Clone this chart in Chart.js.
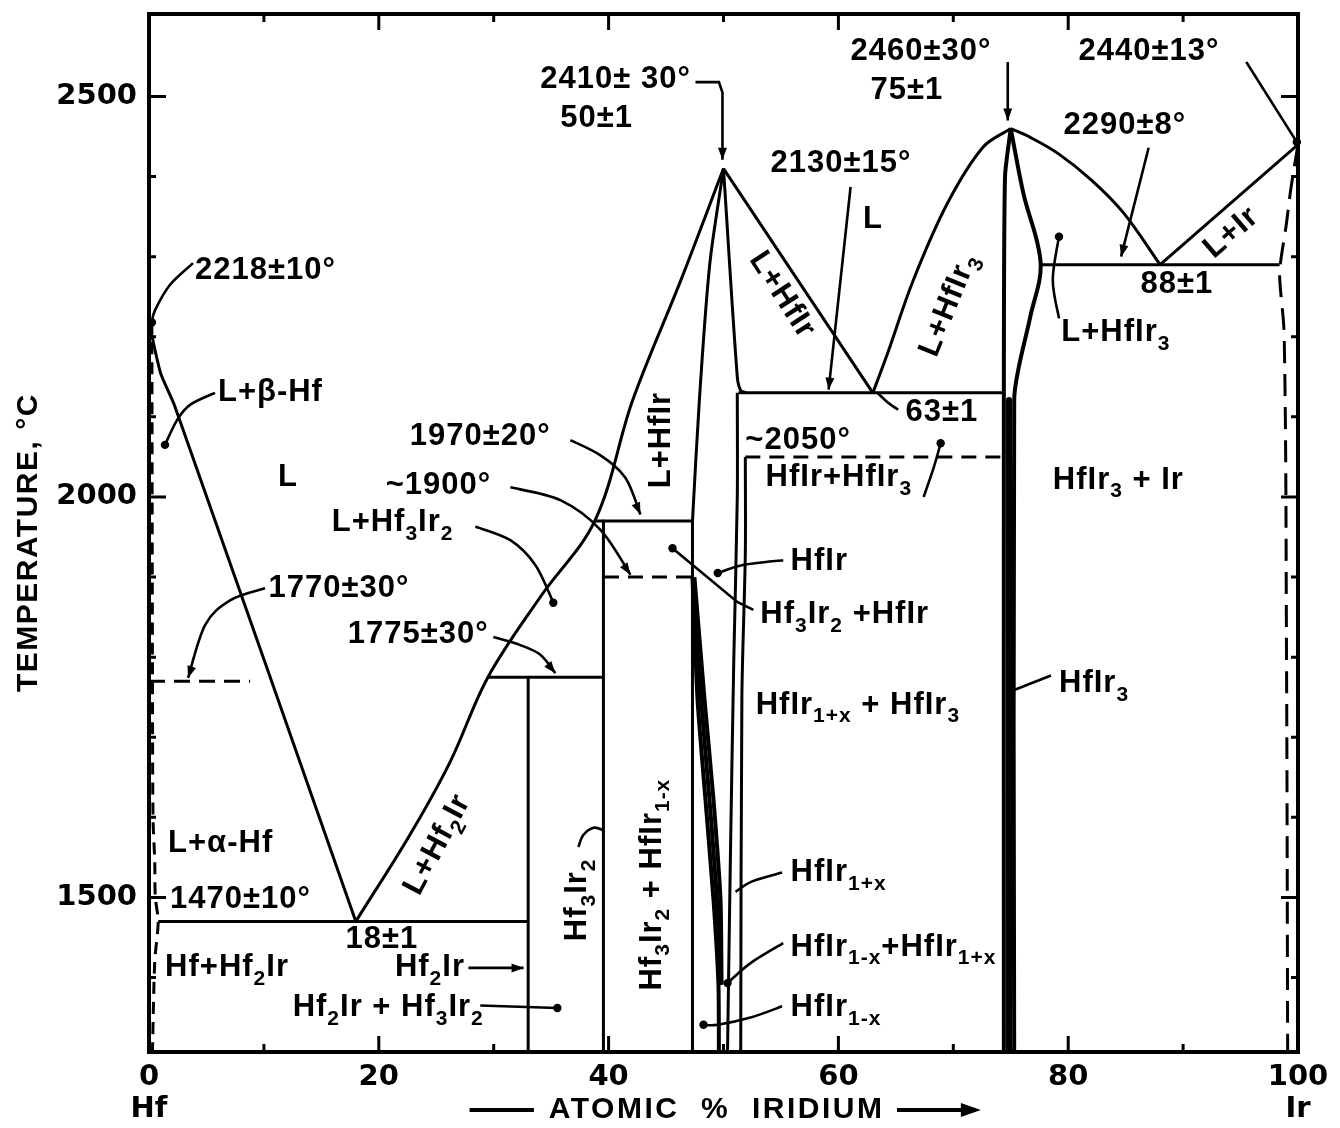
<!DOCTYPE html>
<html>
<head>
<meta charset="utf-8">
<title>Hf–Ir phase diagram</title>
<script src="https://cdn.jsdelivr.net/npm/chart.js@4.4.1/dist/chart.umd.min.js"></script>
<style>
  html, body { margin: 0; padding: 0; background: #fff; }
  #wrap { width: 1340px; height: 1128px; position: relative; }
</style>
</head>
<body>
<div id="wrap"><canvas id="c"></canvas></div>
<script>
// ---- axis ticks ----
const xTicks = [0, 20, 40, 60, 80, 100];
const xTickNames = { 0: 'Hf', 100: 'Ir' };
const yTicks = [1500, 2000, 2500];

// ---- phase boundaries: [atomic % Ir, temperature °C] ----
const liquidusHf      = [[0, 2218], [1.0, 2155], [2.2, 2115], [18, 1470]];
const liquidusHf2Ir   = [[18, 1470], [22.7, 1578], [26.2, 1669], [29.5, 1775], [34.1, 1876], [38.8, 1970], [42.1, 2121], [46.3, 2271], [50, 2410]];
const solidusHfIrLeft = [[47.3, 1970], [47.9, 2121], [48.8, 2290], [50, 2410]];
const boundary47      = [[47.3, 1970], [47.3, 1307]];
const liquidusHfIrR   = [[50, 2410], [63, 2130]];
const solidusHfIrR    = [[50, 2410], [51.2, 2150], [51.5, 2133], [52, 2130]];
const eutectic2130    = [[51.3, 2130], [74.4, 2130]];
const solvusHfIrA     = [[51.2, 2130], [51.2, 2000], [50.9, 1800], [50.6, 1550], [50.35, 1307]];
const solvusHfIrB     = [[51.9, 2050], [51.9, 1930], [51.6, 1750], [51.5, 1307]];
const wedgeLeft       = [[47.3, 1900], [47.74, 1747], [48.43, 1622], [49.13, 1497], [49.56, 1391], [49.6, 1307]];
const wedgeMid        = [[47.4, 1900], [48.05, 1747], [48.78, 1622], [49.43, 1497], [49.7, 1391]];
const wedgeRight      = [[47.47, 1900], [48.35, 1747], [49.13, 1622], [49.74, 1497], [49.83, 1391]];
const transition2050  = [[51.9, 2050], [74.4, 2050]];
const hfIr3Left       = [[75, 2460], [74.5, 2400], [74.4, 2130], [74.4, 1307]];
const hfIr3Right      = [[75, 2460], [76.1, 2379], [77.6, 2292], [76.7, 2225], [75.7, 2162], [75.3, 2121], [75.3, 1307]];
const hfIr3Core       = [[74.85, 2121], [74.85, 1307]];
const liquidusHfIr3L  = [[63, 2130], [64.3, 2180], [66.5, 2270], [69.5, 2367], [72.6, 2437], [75, 2460]];
const liquidusHfIr3R  = [[75, 2460], [76.7, 2449], [79.1, 2429], [82.0, 2396], [84.8, 2355], [88, 2290]];
const eutectic2290    = [[77.6, 2290], [98.4, 2290]];
const liquidusIr      = [[88, 2290], [100, 2440]];
const solidusIr       = [[100, 2440], [99.4, 2387], [98.95, 2337], [98.5, 2295], [98.4, 2275], [98.8, 2200], [99.0, 1800], [99.1, 1307]];
const peritectic1970  = [[38.8, 1970], [47.3, 1970]];
const transition1900  = [[39.6, 1900], [47.3, 1900]];
const hf3Ir2Line      = [[39.55, 1970], [39.55, 1307]];
const peritectic1775  = [[29.5, 1775], [39.55, 1775]];
const hf2IrLine       = [[33.0, 1775], [33.0, 1307]];
const eutectic1470    = [[0.8, 1470], [33.0, 1470]];
const transition1770  = [[0, 1770], [8.8, 1770]];
const solvusHf        = [[0.25, 2218], [0.3, 1800], [0.35, 1600], [0.5, 1545], [0.55, 1500], [0.8, 1470], [0.5, 1420], [0.3, 1307]];

// line styles for each boundary
const boundaries = [
  { d: liquidusHf, t: 0.2 },
  { d: liquidusHf2Ir, t: 0.35 },
  { d: solidusHfIrLeft, t: 0.3 },
  { d: boundary47 },
  { d: liquidusHfIrR },
  { d: solidusHfIrR, t: 0.3 },
  { d: eutectic2130 },
  { d: solvusHfIrA, t: 0.3 },
  { d: solvusHfIrB, t: 0.3 },
  { d: wedgeLeft, t: 0.2, w: 4 },
  { d: wedgeMid, t: 0.2, w: 4 },
  { d: wedgeRight, t: 0.2, w: 4 },
  { d: transition2050, dash: [15, 9] },
  { d: hfIr3Left, t: 0.2, w: 4 },
  { d: hfIr3Right, t: 0.35, w: 4 },
  { d: hfIr3Core, w: 6 },
  { d: liquidusHfIr3L, t: 0.35 },
  { d: liquidusHfIr3R, t: 0.35 },
  { d: eutectic2290 },
  { d: liquidusIr },
  { d: solidusIr, t: 0.35, dash: [22, 11] },
  { d: peritectic1970 },
  { d: transition1900, dash: [15, 9] },
  { d: hf3Ir2Line },
  { d: peritectic1775 },
  { d: hf2IrLine },
  { d: eutectic1470 },
  { d: transition1770, dash: [16, 9] },
  { d: solvusHf, t: 0.3, dash: [12, 8] }
];

// ---- text annotations: [text, at.% Ir, °C, align, rotation°]; {..} = subscript ----
const labels = [
  ['2218±10°', 4.0, 2283, 'left', 0],
  ['L+β-Hf', 6.0, 2130, 'left', 0],
  ['L', 12.1, 2024, 'center', 0],
  ['1970±20°', 22.7, 2076, 'left', 0],
  ['~1900°', 20.6, 2014, 'left', 0],
  ['L+Hf{3}Ir{2}', 15.9, 1968, 'left', 0],
  ['1770±30°', 10.4, 1886, 'left', 0],
  ['1775±30°', 17.3, 1828, 'left', 0],
  ['L+Hf{2}Ir', 25.1, 1566, 'center', -62],
  ['L+α-Hf', 1.66, 1568, 'left', 0],
  ['1470±10°', 1.83, 1497, 'left', 0],
  ['18±1', 17.1, 1447, 'left', 0],
  ['Hf+Hf{2}Ir', 1.4, 1412, 'left', 0],
  ['Hf{2}Ir', 21.4, 1412, 'left', 0],
  ['Hf{2}Ir + Hf{3}Ir{2}', 12.5, 1362, 'left', 0],
  ['Hf{3}Ir{2}', 37.3, 1497, 'center', -90],
  ['Hf{3}Ir{2} + HfIr{1-x}', 43.8, 1516, 'center', -90],
  ['L+HfIr', 44.6, 2071, 'center', -90],
  ['2410± 30°', 34.06, 2521, 'left', 0],
  ['50±1', 35.8, 2473, 'left', 0],
  ['2130±15°', 54.1, 2417, 'left', 0],
  ['L', 63.0, 2346, 'center', 0],
  ['L+HfIr', 55.1, 2252, 'center', 57],
  ['2460±30°', 61.06, 2556, 'left', 0],
  ['75±1', 62.8, 2508, 'left', 0],
  ['2440±13°', 80.9, 2556, 'left', 0],
  ['2290±8°', 79.6, 2464, 'left', 0],
  ['L+HfIr{3}', 69.6, 2240, 'center', -68],
  ['L+Ir', 94.2, 2330, 'center', -41],
  ['88±1', 86.3, 2265, 'left', 0],
  ['L+HfIr{3}', 79.4, 2205, 'left', 0],
  ['63±1', 65.85, 2105, 'left', 0],
  ['~2050°', 51.9, 2071, 'left', 0],
  ['HfIr+HfIr{3}', 53.66, 2024, 'left', 0],
  ['HfIr{3} + Ir', 78.66, 2021, 'left', 0],
  ['HfIr', 55.84, 1919, 'left', 0],
  ['Hf{3}Ir{2} +HfIr', 53.2, 1853, 'left', 0],
  ['HfIr{1+x} + HfIr{3}', 52.8, 1740, 'left', 0],
  ['HfIr{3}', 79.2, 1767, 'left', 0],
  ['HfIr{1+x}', 55.84, 1531, 'left', 0],
  ['HfIr{1-x}+HfIr{1+x}', 55.84, 1438, 'left', 0],
  ['HfIr{1-x}', 55.84, 1362, 'left', 0]
];

// ---- leader lines: points in data units, end marker ----
const leaders = [
  { p: [[3.83, 2292], [1.83, 2265], [0.52, 2233], [0.26, 2218]], end: 'dot' },
  { p: [[5.75, 2130], [3.57, 2115], [2.44, 2096], [1.39, 2065]], end: 'dot' },
  { p: [[36.67, 2071], [39.29, 2052], [41.46, 2024], [42.77, 1978]], end: 'arrow' },
  { p: [[31.45, 2012], [35.8, 1996], [39.29, 1959], [41.9, 1903]], end: 'arrow' },
  { p: [[28.4, 1963], [31.45, 1946], [33.62, 1915], [35.19, 1868]], end: 'dot' },
  { p: [[10.1, 1886], [7.06, 1871], [4.88, 1840], [3.4, 1774]], end: 'arrow' },
  { p: [[29.97, 1825], [32.32, 1815], [34.06, 1803], [35.37, 1780]], end: 'arrow' },
  { p: [[27.8, 1412], [32.6, 1412]], end: 'arrow' },
  { p: [[28.83, 1365], [35.54, 1362]], end: 'dot' },
  { p: [[37.37, 1563], [37.8, 1578], [38.7, 1587], [39.55, 1584]] },
  { p: [[47.56, 2518], [49.6, 2518], [49.91, 2505], [49.91, 2421]], end: 'arrow', sharp: true },
  { p: [[61.06, 2387], [59.15, 2134]], end: 'arrow' },
  { p: [[74.74, 2543], [74.74, 2470]], end: 'arrow' },
  { p: [[95.5, 2543], [99.9, 2443]], end: 'dot' },
  { p: [[87.0, 2436], [84.6, 2300]], end: 'arrow' },
  { p: [[79.2, 2223], [78.66, 2271], [79.2, 2325]], end: 'dot' },
  { p: [[63.4, 2130], [64.3, 2118], [65.2, 2109]] },
  { p: [[67.42, 2000], [68.3, 2037], [68.9, 2067]], end: 'dot' },
  { p: [[55.2, 1921], [51.7, 1915], [49.5, 1905]], end: 'dot' },
  { p: [[52.6, 1859], [51.2, 1869], [45.56, 1936]], end: 'dot', sharp: true },
  { p: [[78.5, 1777], [75.3, 1759]], sharp: true },
  { p: [[55.1, 1531], [52.5, 1520], [51.05, 1507]] },
  { p: [[55.2, 1443], [52.35, 1418], [50.35, 1393]], end: 'dot' },
  { p: [[55.1, 1364], [52.35, 1350], [49.5, 1341], [48.26, 1341]], end: 'dot' }
];

const FONT = '"Liberation Sans", Arial, sans-serif';

function parseRich(s) {
  const out = [];
  const re = /\{([^}]*)\}|([^{]+)/g;
  let m;
  while ((m = re.exec(s))) out.push(m[1] !== undefined ? { t: m[1], sub: true } : { t: m[2], sub: false });
  return out;
}

function drawRich(ctx, s, x, y, align, rot, size) {
  const segs = parseRich(s);
  const fMain = `bold ${size}px ${FONT}`;
  const fSub = `bold ${Math.round(size * 0.68)}px ${FONT}`;
  let w = 0;
  for (const g of segs) { ctx.font = g.sub ? fSub : fMain; g.w = ctx.measureText(g.t).width; w += g.w; }
  ctx.save();
  ctx.translate(x, y);
  if (rot) ctx.rotate(rot * Math.PI / 180);
  let cx = align === 'center' ? -w / 2 : (align === 'right' ? -w : 0);
  ctx.textBaseline = 'middle';
  ctx.textAlign = 'left';
  for (const g of segs) {
    ctx.font = g.sub ? fSub : fMain;
    ctx.fillText(g.t, cx, g.sub ? size * 0.36 : 0);
    cx += g.w;
  }
  ctx.restore();
}

function smoothPath(ctx, pts) {
  ctx.moveTo(pts[0][0], pts[0][1]);
  for (let i = 0; i < pts.length - 1; i++) {
    const p0 = pts[i - 1] || pts[i], p1 = pts[i], p2 = pts[i + 1], p3 = pts[i + 2] || p2;
    ctx.bezierCurveTo(
      p1[0] + (p2[0] - p0[0]) / 6, p1[1] + (p2[1] - p0[1]) / 6,
      p2[0] - (p3[0] - p1[0]) / 6, p2[1] - (p3[1] - p1[1]) / 6,
      p2[0], p2[1]);
  }
}

// frame, inward tick marks, leaders and all lettering
const annotations = {
  id: 'annotations',
  afterDatasetsDraw(chart) {
    const { ctx, chartArea: a, scales: { x, y } } = chart;
    const P = (p) => [x.getPixelForValue(p[0]), y.getPixelForValue(p[1])];
    ctx.save();
    ctx.strokeStyle = '#000';
    ctx.fillStyle = '#000';
    ctx.lineCap = 'butt';

    // frame
    ctx.lineWidth = 4;
    ctx.strokeRect(a.left, a.top, a.right - a.left, a.bottom - a.top);

    // tick marks
    ctx.lineWidth = 3;
    ctx.beginPath();
    for (let v = 1400; v <= 2600; v += 100) {
      const py = y.getPixelForValue(v);
      if (py < a.top + 4 || py > a.bottom - 4) continue;
      const len = v % 500 === 0 ? 17 : 7;
      ctx.moveTo(a.left, py); ctx.lineTo(a.left + len, py);
      ctx.moveTo(a.right, py); ctx.lineTo(a.right - len, py);
    }
    for (let v = 10; v <= 90; v += 10) {
      const px = x.getPixelForValue(v);
      const len = v % 20 === 0 ? 16 : 8;
      ctx.moveTo(px, a.bottom); ctx.lineTo(px, a.bottom - len);
      ctx.moveTo(px, a.top); ctx.lineTo(px, a.top + len);
    }
    ctx.stroke();

    // leaders
    ctx.lineWidth = 2.6;
    for (const L of leaders) {
      const pts = L.p.map(P);
      ctx.beginPath();
      if (L.sharp || pts.length < 3) {
        ctx.moveTo(pts[0][0], pts[0][1]);
        for (let i = 1; i < pts.length; i++) ctx.lineTo(pts[i][0], pts[i][1]);
      } else smoothPath(ctx, pts);
      ctx.stroke();
      const e = pts[pts.length - 1], b = pts[pts.length - 2];
      if (L.end === 'dot') {
        ctx.beginPath(); ctx.arc(e[0], e[1], 4.2, 0, Math.PI * 2); ctx.fill();
      } else if (L.end === 'arrow') {
        let dx = e[0] - b[0], dy = e[1] - b[1];
        const n = Math.hypot(dx, dy); dx /= n; dy /= n;
        ctx.beginPath();
        ctx.moveTo(e[0], e[1]);
        ctx.lineTo(e[0] - dx * 12 - dy * 4.5, e[1] - dy * 12 + dx * 4.5);
        ctx.lineTo(e[0] - dx * 12 + dy * 4.5, e[1] - dy * 12 - dx * 4.5);
        ctx.closePath(); ctx.fill();
      }
    }

    // region and value labels
    ctx.letterSpacing = '1px';
    for (const [t, lx, ly, al, rot] of labels) {
      const [px, py] = P([lx, ly]);
      drawRich(ctx, t, px, py, al, rot, 31);
    }

    // axis titles
    ctx.letterSpacing = '1.5px';
    drawRich(ctx, 'TEMPERATURE, °C', a.left - 120, y.getPixelForValue(1943), 'center', -90, 30);
    ctx.letterSpacing = '2.5px';
    const ty = a.bottom + 58;
    drawRich(ctx, 'ATOMIC  %  IRIDIUM', x.getPixelForValue(49.4), ty, 'center', 0, 30);
    ctx.lineWidth = 4;
    ctx.beginPath();
    ctx.moveTo(x.getPixelForValue(27.9), ty); ctx.lineTo(x.getPixelForValue(33.5), ty);
    ctx.moveTo(x.getPixelForValue(65.1), ty); ctx.lineTo(x.getPixelForValue(70.9), ty);
    ctx.stroke();
    const ax = x.getPixelForValue(72.4);
    ctx.beginPath();
    ctx.moveTo(ax, ty); ctx.lineTo(ax - 20, ty - 7); ctx.lineTo(ax - 20, ty + 7);
    ctx.closePath(); ctx.fill();
    ctx.restore();
  }
};

const tickFont = { family: '"DejaVu Sans", sans-serif', size: 29, weight: 'bold', lineHeight: 1.08 };

new Chart(document.getElementById('c'), {
  type: 'scatter',
  data: {
    datasets: boundaries.map(b => ({
      data: b.d.map(([px, py]) => ({ x: px, y: py })),
      showLine: true,
      borderColor: '#000',
      backgroundColor: '#000',
      borderWidth: b.w || 3,
      borderDash: b.dash || [],
      tension: b.t || 0,
      pointRadius: 0,
      borderJoinStyle: 'round',
      fill: false
    }))
  },
  options: {
    responsive: true,
    maintainAspectRatio: false,
    devicePixelRatio: 1,
    animation: false,
    events: [],
    layout: { padding: { top: 14, right: 42, left: 0, bottom: 0 } },
    plugins: { legend: { display: false }, tooltip: { enabled: false } },
    scales: {
      x: {
        type: 'linear', min: 0, max: 100,
        grid: { display: false, drawTicks: false },
        border: { display: false },
        afterBuildTicks: s => { s.ticks = xTicks.map(v => ({ value: v })); },
        afterFit: s => { s.height = 76; s.paddingLeft = 0; s.paddingRight = 0; },
        ticks: {
          autoSkip: false, maxRotation: 0, padding: 10, color: '#000', font: tickFont,
          callback: v => (xTickNames[v] ? [String(v), xTickNames[v]] : String(v))
        }
      },
      y: {
        type: 'linear', min: 1307, max: 2603,
        grid: { display: false, drawTicks: false },
        border: { display: false },
        afterBuildTicks: s => { s.ticks = yTicks.map(v => ({ value: v })); },
        afterFit: s => { s.width = 149; s.paddingTop = 0; s.paddingBottom = 0; },
        ticks: { padding: 12, color: '#000', font: tickFont, callback: v => String(v) }
      }
    }
  },
  plugins: [annotations]
});
</script>
</body>
</html>
